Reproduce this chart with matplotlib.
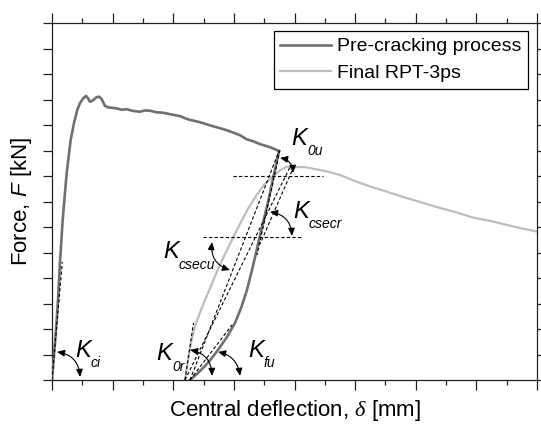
import matplotlib
matplotlib.use("Agg")
import matplotlib.pyplot as plt
from matplotlib.patches import FancyArrowPatch
from matplotlib.ticker import MultipleLocator

plt.rcParams['font.family'] = ['Liberation Sans', 'DejaVu Sans']
plt.rcParams['mathtext.fontset'] = 'custom'
plt.rcParams['mathtext.rm'] = 'Liberation Sans'
plt.rcParams['mathtext.it'] = 'Liberation Sans:italic'
plt.rcParams['mathtext.cal'] = 'Liberation Serif:italic'

# Pre-cracking: loading, softening, then unloading back to zero force
pre_delta = [0.000, 0.033, 0.066, 0.099, 0.132, 0.176, 0.242, 0.308, 0.363, 0.417,
             0.462, 0.516, 0.561, 0.594, 0.627, 0.681, 0.737, 0.780, 0.820, 0.874,
             0.929, 1.000, 1.067, 1.150, 1.232, 1.340, 1.452, 1.530, 1.616, 1.720,
             1.836, 1.950, 2.111, 2.200, 2.276, 2.390, 2.496, 2.600, 2.717, 2.850,
             2.991, 3.100, 3.212, 3.320, 3.431, 3.596, 3.744,
             3.571, 3.414, 3.307, 3.216, 3.118, 3.019, 2.887, 2.738, 2.623, 2.524,
             2.392, 2.276]
pre_force = [0.00, 0.98, 1.96, 3.14, 4.63, 6.27, 8.12, 9.41, 10.08, 10.59,
             10.86, 11.05, 11.14, 11.05, 10.91, 10.98, 11.09, 11.11, 11.01, 10.75,
             10.69, 10.67, 10.65, 10.60, 10.62, 10.55, 10.52, 10.57, 10.56, 10.50,
             10.48, 10.42, 10.35, 10.26, 10.20, 10.14, 10.07, 9.99, 9.91, 9.82,
             9.70, 9.60, 9.44, 9.36, 9.25, 9.13, 8.98,
             7.06, 5.49, 4.39, 3.53, 2.82, 2.24, 1.69, 1.18, 0.82, 0.55,
             0.24, 0.00]

# Final test: reloading from the residual deflection
fin_delta = [2.194, 2.243, 2.293, 2.359, 2.458, 2.573, 2.705, 2.837, 2.969, 3.101,
             3.233, 3.365, 3.497, 3.629, 3.761, 3.876, 3.959, 4.058, 4.173,
             4.338, 4.536, 4.751, 4.998, 5.245, 5.493, 5.790, 6.070, 6.351, 6.647,
             6.944, 7.225, 7.472, 7.720, 8.000]
fin_force = [0.00, 0.78, 1.45, 2.12, 2.75, 3.41, 4.16, 4.86, 5.49, 6.12,
             6.71, 7.22, 7.65, 7.96, 8.22, 8.37, 8.33, 8.35, 8.35,
             8.27, 8.18, 8.04, 7.80, 7.59, 7.41, 7.18, 6.98, 6.78, 6.59,
             6.37, 6.24, 6.10, 5.96, 5.82]

series_labels = ['Pre-cracking process', 'Final RPT-3ps']

# Stiffness construction lines: (delta0, force0, delta1, force1)
construction_lines = [
    (0.000, 0.00, 0.170, 4.63),   # initial tangent
    (2.986, 8.00, 4.470, 8.00),   # horizontal reference, upper
    (2.491, 5.61, 4.140, 5.61),   # horizontal reference, lower
    (2.276, 0.00, 3.744, 8.98),   # unloading secant
    (2.194, 0.00, 3.926, 8.35),   # reloading secant
    (3.761, 9.02, 3.381, 4.90),   # unloading tangent at start
    (3.992, 8.39, 3.431, 5.33),   # reloading tangent at peak
    (2.194, 0.00, 2.334, 2.24),   # reloading tangent at start
    (2.276, 0.00, 2.969, 2.16),   # unloading tangent at end
]

# Angle arcs: (delta0, force0, delta1, force1, curvature)
angle_arcs = [
    (0.082, 1.10, 0.462, 0.12, -0.4),
    (2.276, 1.18, 2.639, 0.16, -0.4),
    (2.738, 1.10, 3.101, 0.16, -0.35),
    (3.761, 8.71, 3.975, 8.12, -0.4),
    (3.596, 6.59, 3.959, 5.65, -0.4),
    (2.639, 5.41, 2.936, 4.31, 0.4),
]

# Stiffness labels: (delta, force, subscript)
stiffness_labels = [
    (0.379, 0.90, 'ci'),
    (1.715, 0.78, '0r'),
    (3.233, 0.90, 'fu'),
    (3.942, 9.22, '0u'),
    (3.975, 6.35, 'csecr'),
    (1.831, 4.78, 'csecu'),
]

fig = plt.figure(figsize=(5.41, 4.24), dpi=100)
ax = fig.add_axes([52 / 541, 1 - 380 / 424, 485 / 541, 357 / 424])

ax.plot(pre_delta, pre_force, color='#707070', lw=1.9, label=series_labels[0],
        solid_joinstyle='round', zorder=3)
ax.plot(fin_delta, fin_force, color='#bdbdbd', lw=1.6, label=series_labels[1],
        solid_joinstyle='round', zorder=2)

for x0, y0, x1, y1 in construction_lines:
    ax.plot([x0, x1], [y0, y1], color='black', lw=0.8, ls=(0, (3, 2)), zorder=4)

for x0, y0, x1, y1, rad in angle_arcs:
    arc = FancyArrowPatch((x0, y0), (x1, y1), connectionstyle=f"arc3,rad={rad}",
                          arrowstyle="<|-|>,head_length=0.45,head_width=0.2",
                          mutation_scale=10, lw=0.8, color='black',
                          shrinkA=0, shrinkB=0, zorder=5)
    ax.add_patch(arc)

for x, y, sub in stiffness_labels:
    ax.text(x, y, 'K', fontsize=17, style='italic', ha='left', va='baseline')
    ax.annotate(sub, xy=(x, y), xytext=(11.5, -7.5), textcoords='offset points',
                fontsize=10, style='italic', ha='left', va='baseline')

ax.set_xlim(0, 8)
ax.set_ylim(0, 14)
ax.xaxis.set_major_locator(MultipleLocator(1))
ax.xaxis.set_minor_locator(MultipleLocator(0.5))
ax.yaxis.set_major_locator(MultipleLocator(1))
ax.yaxis.set_minor_locator(MultipleLocator(1))
ax.yaxis.remove_overlapping_locs = False

ax.tick_params(axis='x', which='both', direction='out', top=True, bottom=True,
               labelbottom=False, labeltop=False, width=0.9, color='#222222')
ax.tick_params(axis='x', which='major', length=7)
ax.tick_params(axis='x', which='minor', length=3.5)
ax.tick_params(axis='y', which='major', direction='out', left=True, right=False,
               length=6.5, width=0.9, labelleft=False, color='#222222')
ax.tick_params(axis='y', which='minor', direction='out', left=False, right=True,
               length=3.5, width=0.9, color='#222222')
for s in ax.spines.values():
    s.set_linewidth(0.9)
    s.set_color('#222222')

ax.set_xlabel(r'Central deflection, $\mathcal{\delta}$ [mm]', fontsize=16, labelpad=6)
ax.set_ylabel(r'Force, $F$ [kN]', fontsize=16, labelpad=6)

leg = ax.legend(loc='upper right', bbox_to_anchor=((528 - 52) / 485, (380 - 31) / 357),
                borderaxespad=0, fontsize=14, handlelength=2.6, handletextpad=0.3,
                labelspacing=0.45, borderpad=0.35, frameon=True, fancybox=False,
                edgecolor='black', framealpha=1)
leg.get_frame().set_linewidth(0.9)

fig.savefig('out.png', dpi=100)
